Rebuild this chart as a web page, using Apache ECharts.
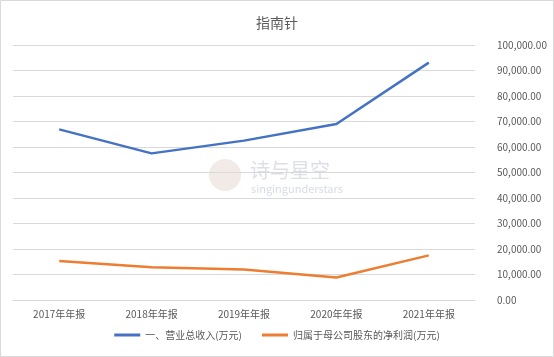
<!DOCTYPE html>
<html><head><meta charset="utf-8">
<script src="https://cdn.jsdelivr.net/npm/echarts@6/dist/echarts.min.js"></script>
<style>html,body{margin:0;padding:0;background:#fff}#c{width:554px;height:357px}</style>
</head><body><div id="c"></div>
<script>
var categories = ['2017年年报','2018年年报','2019年年报','2020年年报','2021年年报'];
var revenue = [66900, 57500, 62500, 69000, 93100];
var netProfit = [15300, 12800, 12000, 8800, 17500];
var seriesNames = ['一、营业总收入(万元)','归属于母公司股东的净利润(万元)'];
var chart = echarts.init(document.getElementById('c'));
var font = '"Microsoft YaHei","Noto Sans CJK SC",sans-serif';
chart.setOption({
  animation:false,
  backgroundColor:'#fff',
  title:{text:'指南针',left:'center',top:11,textStyle:{fontFamily:font,fontSize:14,fontWeight:'normal',color:'#595959'}},
  graphic:[
    {type:'rect',shape:{x:0.5,y:0.5,width:553,height:356},style:{fill:'none',stroke:'#d9d9d9',lineWidth:1},z:-1},
    {type:'circle',shape:{cx:225,cy:175,r:16},style:{fill:'rgba(200,170,160,0.25)'},z:0},
    {type:'text',left:250,top:160,style:{text:'诗与星空',font:'20px '+font,fill:'rgba(180,185,205,0.45)'},z:0},
    {type:'text',left:251,top:183,style:{text:'singingunderstars',font:'11px '+font,fill:'rgba(180,185,205,0.5)'},z:0}
  ],
  grid:{left:13,right:79,top:45,bottom:57,containLabel:false},
  legend:{bottom:12,left:'center',itemWidth:26,itemHeight:3,itemGap:20,icon:'rect',
    textStyle:{fontFamily:font,fontSize:10,color:'#595959'},data:seriesNames},
  xAxis:{type:'category',data:categories,boundaryGap:true,
    axisLine:{show:true,lineStyle:{color:'#d9d9d9'}},axisTick:{show:false},
    axisLabel:{fontFamily:font,fontSize:10,color:'#595959',margin:9}},
  yAxis:{type:'value',position:'right',min:0,max:100000,interval:10000,
    axisLine:{show:false},axisTick:{show:false},
    splitLine:{lineStyle:{color:'#d9d9d9'}},
    axisLabel:{fontFamily:font,fontSize:10,color:'#595959',margin:22,
      formatter:function(v){return v.toLocaleString('en-US',{minimumFractionDigits:2,maximumFractionDigits:2});}}},
  series:[
    {name:seriesNames[0],type:'line',data:revenue,symbol:'none',lineStyle:{color:'#4472C4',width:2.5},itemStyle:{color:'#4472C4'}},
    {name:seriesNames[1],type:'line',data:netProfit,symbol:'none',lineStyle:{color:'#ED7D31',width:2.5},itemStyle:{color:'#ED7D31'}}
  ]
});
</script></body></html>
